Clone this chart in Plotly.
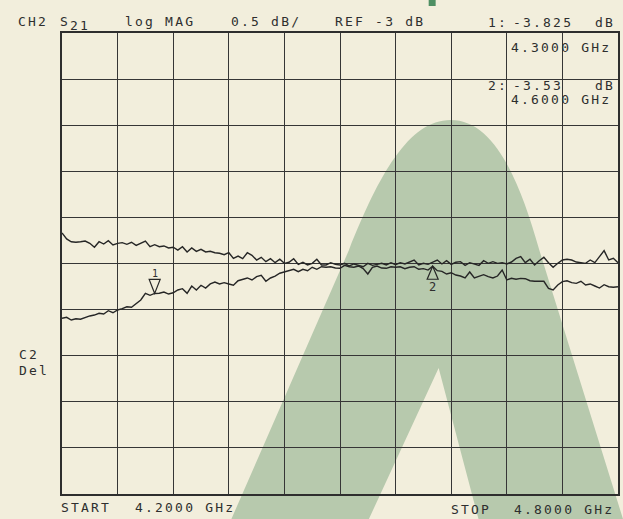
import plotly.graph_objects as go

# ---------------- data ----------------
freq_ghz = [
    4.200, 4.205, 4.210, 4.215, 4.220, 4.225, 4.230, 4.235, 4.240, 4.245,
    4.250, 4.255, 4.260, 4.265, 4.270, 4.275, 4.280, 4.285, 4.290, 4.295,
    4.300, 4.305, 4.310, 4.315, 4.320, 4.325, 4.330, 4.335, 4.340, 4.345,
    4.350, 4.355, 4.360, 4.365, 4.370, 4.375, 4.380, 4.385, 4.390, 4.395,
    4.400, 4.405, 4.410, 4.415, 4.420, 4.425, 4.430, 4.435, 4.440, 4.445,
    4.450, 4.455, 4.460, 4.465, 4.470, 4.475, 4.480, 4.485, 4.490, 4.495,
    4.500, 4.505, 4.510, 4.515, 4.520, 4.525, 4.530, 4.535, 4.540, 4.545,
    4.550, 4.555, 4.560, 4.565, 4.570, 4.575, 4.580, 4.585, 4.590, 4.595,
    4.600, 4.605, 4.610, 4.615, 4.620, 4.625, 4.630, 4.635, 4.640, 4.645,
    4.650, 4.655, 4.660, 4.665, 4.670, 4.675, 4.680, 4.685, 4.690, 4.695,
    4.700, 4.705, 4.710, 4.715, 4.720, 4.725, 4.730, 4.735, 4.740, 4.745,
    4.750, 4.755, 4.760, 4.765, 4.770, 4.775, 4.780, 4.785, 4.790, 4.795,
    4.800,
]

trace_upper_db = [
    -3.169, -3.234, -3.264, -3.270, -3.264, -3.256, -3.281, -3.324, -3.264, -3.289,
    -3.253, -3.299, -3.281, -3.274, -3.292, -3.270, -3.303, -3.281, -3.256, -3.318,
    -3.296, -3.318, -3.310, -3.332, -3.324, -3.354, -3.318, -3.375, -3.332, -3.368,
    -3.346, -3.375, -3.368, -3.383, -3.389, -3.405, -3.383, -3.444, -3.419, -3.448,
    -3.383, -3.411, -3.462, -3.433, -3.480, -3.448, -3.491, -3.454, -3.498, -3.487,
    -3.448, -3.509, -3.487, -3.516, -3.498, -3.454, -3.516, -3.516, -3.491, -3.509,
    -3.516, -3.498, -3.527, -3.505, -3.520, -3.535, -3.498, -3.520, -3.509, -3.498,
    -3.516, -3.491, -3.513, -3.491, -3.505, -3.484, -3.462, -3.516, -3.498, -3.509,
    -3.484, -3.462, -3.505, -3.470, -3.509, -3.487, -3.480, -3.520, -3.491, -3.505,
    -3.520, -3.470, -3.498, -3.480, -3.498, -3.491, -3.505, -3.484, -3.444, -3.426,
    -3.491, -3.454, -3.516, -3.470, -3.433, -3.491, -3.541, -3.498, -3.462, -3.454,
    -3.462, -3.484, -3.491, -3.498, -3.462, -3.491, -3.426, -3.361, -3.462, -3.444,
    -3.491,
]

trace_lower_db = [
    -4.094, -4.084, -4.113, -4.099, -4.105, -4.084, -4.069, -4.059, -4.040, -4.048,
    -4.012, -4.034, -4.004, -3.990, -3.969, -3.975, -3.939, -3.896, -3.823, -3.845,
    -3.825, -3.823, -3.809, -3.831, -3.817, -3.787, -3.773, -3.823, -3.744, -3.787,
    -3.736, -3.766, -3.722, -3.701, -3.722, -3.708, -3.722, -3.736, -3.687, -3.671,
    -3.657, -3.679, -3.643, -3.628, -3.693, -3.657, -3.636, -3.606, -3.592, -3.578,
    -3.563, -3.589, -3.563, -3.578, -3.541, -3.563, -3.535, -3.541, -3.535, -3.549,
    -3.552, -3.520, -3.535, -3.541, -3.527, -3.556, -3.614, -3.541, -3.527, -3.549,
    -3.552, -3.535, -3.541, -3.535, -3.556, -3.541, -3.535, -3.563, -3.556, -3.571,
    -3.530, -3.578, -3.585, -3.614, -3.600, -3.625, -3.636, -3.657, -3.592, -3.657,
    -3.636, -3.621, -3.643, -3.657, -3.636, -3.571, -3.679, -3.661, -3.671, -3.661,
    -3.665, -3.687, -3.693, -3.697, -3.693, -3.769, -3.787, -3.733, -3.697, -3.687,
    -3.708, -3.715, -3.693, -3.733, -3.722, -3.744, -3.766, -3.730, -3.752, -3.758,
    -3.752,
]

marker_ids = ["1", "2"]
marker_freq_ghz = [4.300, 4.600]
marker_db = [-3.825, -3.53]
marker_db_text = ["-3.825", "-3.53"]
marker_freq_text = ["4.3000 GHz", "4.6000 GHz"]

start_text = "4.2000 GHz"
stop_text = "4.8000 GHz"
scale_text = "0.5 dB/"
ref_text = "REF -3 dB"

# ---------------- layout constants ----------------
W, H = 623, 519
ML, MR, MT, MB = 62, 3, 33, 25
PW, PH = W - ML - MR, H - MT - MB

BG = "#F2EEDC"
INK = "#2e2e2e"
GREEN = "#B7C9AD"
FONT = "DejaVu Sans Mono"


def paper(px, py):
    return (px - ML) / PW, (H - MB - py) / PH


def spaced(t, ls=2.2):
    return f'<span style="letter-spacing:{ls}px">{t}</span>'


fig = go.Figure()

for ys in (trace_upper_db, trace_lower_db):
    fig.add_trace(go.Scatter(
        x=freq_ghz, y=ys, mode="lines",
        line=dict(color="#262626", width=1.4),
        hoverinfo="skip", showlegend=False,
    ))

shapes = []

# watermark "A" (decoration, in pixel space converted to paper)
pts = {
    "bl": (232, 519), "l": (350, 250), "c1": (380, 175), "c2": (410, 120),
    "top": (452, 120), "c3": (494, 120), "c4": (520, 175), "r": (541, 250),
    "br": (625, 519), "ir": (480, 519), "apex": (440, 368), "il": (370, 519),
}
pp = {k: paper(*v) for k, v in pts.items()}


def f(k):
    return f"{pp[k][0]:.5f},{pp[k][1]:.5f}"


path = (f"M {f('bl')} L {f('l')} C {f('c1')} {f('c2')} {f('top')} "
        f"C {f('c3')} {f('c4')} {f('r')} L {f('br')} L {f('ir')} "
        f"L {f('apex')} L {f('il')} Z")
shapes.append(dict(type="path", xref="paper", yref="paper", path=path,
                   fillcolor=GREEN, line=dict(width=0), layer="below"))
# small green fragment at top edge
x0, y0 = paper(430, 0)
x1, y1 = paper(437, 6)
shapes.append(dict(type="rect", xref="paper", yref="paper", x0=x0, y0=y0, x1=x1, y1=y1,
                   fillcolor="#4E8F63", line=dict(width=0), layer="below"))

# marker triangles
for mid, mf, md in zip(marker_ids, marker_freq_ghz, marker_db):
    if mid == "1":
        p = "M 0,0 L -5.5,14 L 5.5,14 Z"
    else:
        p = "M 0,0 L -5.5,-13 L 5.5,-13 Z"
    shapes.append(dict(type="path", xref="x", yref="y", xsizemode="pixel", ysizemode="pixel",
                       xanchor=mf, yanchor=md, path=p,
                       line=dict(color="#262626", width=1.2), fillcolor="rgba(0,0,0,0)"))

annotations = []


def txt(t, px, py, anchor="left", size=13):
    u, v = paper(px, py)
    annotations.append(dict(text=spaced(t), x=u, y=v, xref="paper", yref="paper",
                            xanchor=anchor, yanchor="middle", showarrow=False,
                            font=dict(family=FONT, size=size, color=INK)))


txt("CH2", 16, 21)
txt("S", 58, 21)
txt("21", 68, 25)
txt("log MAG", 123, 21)
txt(scale_text, 230, 21)
txt(ref_text, 334, 21)

txt("1:", 488, 23)
txt(marker_db_text[0], 513, 23)
txt("dB", 619, 23, anchor="right")
txt(marker_freq_text[0], 511, 47)
txt("2:", 488, 86)
txt(marker_db_text[1], 513, 86)
txt("dB", 619, 86, anchor="right")
txt(marker_freq_text[1], 511, 100)

txt("C2", 17, 354)
txt("Del", 17, 370)

txt("START", 59, 507)
txt(start_text, 133, 507)
txt("STOP", 450, 509)
txt(stop_text, 514, 509)

# marker labels
for mid, mf, md in zip(marker_ids, marker_freq_ghz, marker_db):
    if mid == "1":
        annotations.append(dict(text=mid, x=mf, y=md, xref="x", yref="y", showarrow=False,
                                yanchor="bottom", yshift=12,
                                font=dict(family=FONT, size=10, color=INK)))
    else:
        annotations.append(dict(text=mid, x=mf, y=md, xref="x", yref="y", showarrow=False,
                                yanchor="top", yshift=-12,
                                font=dict(family=FONT, size=12, color=INK)))

axis_common = dict(showgrid=True, gridcolor="#363636", gridwidth=1.3,
                   showline=True, linecolor="#2e2e2e", linewidth=1.6, mirror=True,
                   showticklabels=False, ticks="", zeroline=False, fixedrange=True)

fig.update_layout(
    width=W, height=H,
    margin=dict(l=ML, r=MR, t=MT, b=MB, pad=0),
    paper_bgcolor=BG, plot_bgcolor="rgba(0,0,0,0)",
    font=dict(family=FONT, color=INK),
    xaxis=dict(range=[4.2, 4.8], tick0=4.2, dtick=0.06, **axis_common),
    yaxis=dict(range=[-6, -1], tick0=-6, dtick=0.5, **axis_common),
    shapes=shapes, annotations=annotations, showlegend=False,
)

fig.write_html(
    "out.html",
    config={"displayModeBar": False},
    post_script="document.body.style.margin='0';document.body.style.background='" + BG + "';",
)
